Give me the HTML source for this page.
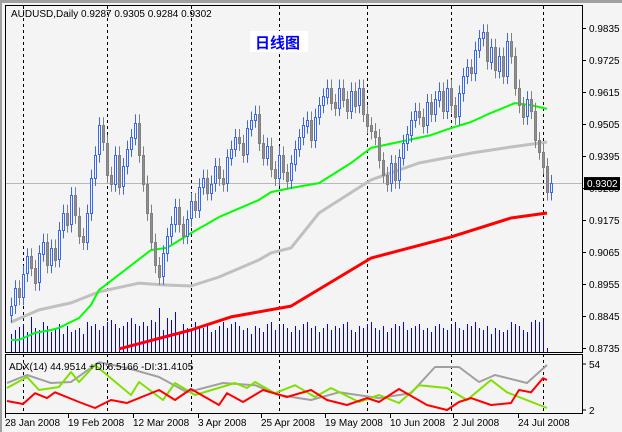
<!DOCTYPE html>
<html><head><meta charset="utf-8"><style>
html,body{margin:0;padding:0;background:#f4f4f4;}
body{width:622px;height:432px;overflow:hidden;position:relative;font-family:"Liberation Sans","Noto Sans CJK SC",sans-serif;}
svg{position:absolute;left:0;top:0;}
</style></head><body>
<svg id="chart" width="622" height="432" viewBox="0 0 622 432" xmlns="http://www.w3.org/2000/svg">
<rect x="0" y="0" width="622" height="432" fill="#f4f4f4"/>
<rect x="0" y="0" width="622" height="3" fill="#a0a0a0"/>
<rect x="0" y="0" width="2" height="432" fill="#a0a0a0"/>
<g id="main"></g>
</svg>
<script>
const closes=[.888,.894,.891,.899,.905,.901,.896,.906,.910,.902,.908,
.904,.914,.920,.916,.926,.919,.912,.910,.920,.932,
.940,.950,.944,.933,.930,.940,.929,.936,.942,.946,
.951,.940,.930,.920,.910,.902,.898,.906,.912,.916,
.922,.916,.912,.918,.924,.921,.929,.932,.927,.930,
.936,.932,.930,.939,.942,.946,.944,.940,.949,.952,
.954,.944,.939,.943,.935,.932,.940,.934,.931,.937,
.942,.946,.950,.952,.945,.953,.957,.960,.963,.958,
.956,.963,.959,.955,.962,.957,.963,.954,.950,.948,
.946,.938,.933,.930,.937,.931,.939,.944,.947,.952,
.955,.953,.950,.958,.954,.959,.962,.955,.963,.957,
.953,.961,.967,.970,.968,.976,.980,.982,.972,.977,
.969,.974,.967,.979,.974,.963,.957,.953,.959,.955,
.945,.941,.936,.927,.9302];
const firstOpen=.885;
const volumes=[18,22,25,28,20,35,24,22,30,26,20,24,28,18,26,20,22,24,18,30,
26,28,22,26,30,32,28,24,26,30,34,28,26,30,26,32,30,44,22,34,32,40,20,28,24,22,30,26,24,28,
20,22,26,30,24,28,30,26,22,24,18,26,24,20,28,30,22,26,28,24,20,26,22,28,30,24,26,20,24,28,
22,26,24,28,30,22,20,26,24,28,30,24,22,26,20,24,28,26,30,22,24,26,28,22,24,20,26,28,24,22,
26,30,24,22,28,26,30,24,22,26,18,24,22,20,22,30,28,26,22,20,30,32,30,32,4];
const greenIdx=[0,2,6,10,12,17,20,22,35,39,45,52,62,65,70,77,85,90,97,105,110,115,120,126,130,134];
const greenVal=[.8763,.8763,.8787,.8797,.8804,.8838,.8883,.8934,.9072,.9079,.9130,.9185,.9244,.9271,.9285,.9302,.9371,.9423,.9443,.9467,.9491,.9512,.9543,.9577,.9570,.9557];
const grayIdx=[0,7,15,22,32,38,45,52,62,65,70,77,90,102,115,125,134];
const grayVal=[.8824,.8866,.8890,.8928,.8958,.8952,.8948,.8979,.9038,.9062,.9079,.9199,.9313,.9371,.9405,.9426,.9443];
const redIdx=[27,45,55,70,90,110,125,134];
const redVal=[.8732,.8797,.8842,.8879,.9044,.9117,.9182,.9199];
const adxIdx=[-1,4,10,15,22,29,37,44,53,61,67,75,82,92,100,106,112,117,121,129,134];
const adxVal=[32.5,41.6,32.5,33.6,56,49.5,39.3,22,32.5,30,19,13.3,22,15.5,21,50.6,50.6,33.6,41.6,32.5,52.9];
const pdiIdx=[-1,4,7,12,15,17,21,30,32,38,41,46,56,59,61,66,71,76,80,87,92,97,102,109,114,120,124,134];
const pdiVal=[26.9,39.3,24.6,28,45,33.6,52.9,19,33.6,13.3,32.5,19,32.5,26.9,33.6,21,30,16.7,26.9,11,19,9.9,30,26.9,13.3,35.9,22,4.3];
const mdiIdx=[-1,3,6,9,11,17,21,25,29,37,41,45,52,54,58,63,69,75,79,84,89,92,97,104,109,112,115,120,125,127,130,133,134];
const mdiVal=[12.2,8.8,21,15.5,22,11,4.3,13.3,9.9,24.6,13.3,25.7,7.7,21,11,24.6,16.7,24.6,13.3,7.7,15.5,11,25.7,7.7,2,11,15.5,7.7,9.9,24.6,22,38,35.9];
const priceTicks=["0.9835","0.9725","0.9615","0.9505","0.9395","0.9285","0.9175","0.9065","0.8955","0.8845","0.8735"];
const dateLabels=["28 Jan 2008","19 Feb 2008","12 Mar 2008","3 Apr 2008","25 Apr 2008","19 May 2008","10 Jun 2008","2 Jul 2008","24 Jul 2008"];
const dateIdx=[-1.5,14.25,30.5,46.75,62.5,78.5,94.75,110.5,126.75];
const separatorIdx=[3,24,45,67,89,110,133];

const NS="http://www.w3.org/2000/svg";
const g=document.getElementById('main');
function mk(tag,attrs,parent){const e=document.createElementNS(NS,tag);for(const k in attrs)e.setAttribute(k,attrs[k]);(parent||g).appendChild(e);return e;}
const xOf=i=>11+i*4;
const yP=p=>28+(0.9835-p)/0.011*32;
const yI=v=>410-(v-2)/52*46;

let f=mk('rect',{x:5.5,y:5.5,width:577,height:347,fill:'#f4f4f4',stroke:'#000','stroke-width':1});


f=mk('rect',{x:5.5,y:354.5,width:577,height:59,fill:'#f4f4f4',stroke:'#000','stroke-width':1});



separatorIdx.forEach(i=>{const l=mk('line',{x1:xOf(i)+.5,x2:xOf(i)+.5,y1:6,y2:413,stroke:'#000','stroke-dasharray':'3,3','stroke-width':1});

});

let bl=mk('line',{x1:6,x2:582,y1:Math.round(yP(0.9302))+.5,y2:Math.round(yP(0.9302))+.5,stroke:'#b8b8b8','stroke-width':1});



volumes.forEach((v,i)=>{const r=mk('rect',{x:xOf(i),y:352-v,width:1,height:v,fill:'#0000ff'});

});

function poly(idx,val,yf,color,w,name){const pts=idx.map((i,k)=>xOf(i)+','+yf(val[k]).toFixed(1)).join(' ');
const p=mk('polyline',{points:pts,fill:'none',stroke:color,'stroke-width':w,'stroke-linejoin':'round'});

}
poly(grayIdx,grayVal,yP,'#c0c0c0',3,'ma-gray-line');
poly(redIdx,redVal,yP,'#ff0000',3,'ma-red-line');
poly(greenIdx,greenVal,yP,'#00ff00',2,'ma-green-line');

closes.forEach((c,i)=>{const o=i?closes[i-1]:firstOpen;const hi=Math.max(o,c)+0.0028,lo=Math.min(o,c)-0.0028;
const bull=c>=o;const x=xOf(i);
const col=bull?'#3a68e8':'#808080';
const w=mk('line',{x1:x+.5,x2:x+.5,y1:yP(hi),y2:yP(lo),stroke:col,'stroke-width':1});


const t=Math.round(Math.min(yP(o),yP(c)))+.5,h=Math.max(1,Math.round(Math.abs(yP(o)-yP(c))));
const b=mk('rect',{x:x-.5,y:t,width:2,height:h,fill:bull?'#f4f4f4':'#909090',stroke:col,'stroke-width':1});

});

poly(adxIdx,adxVal,yI,'#a0a0a0',2,'adx-line');
poly(pdiIdx,pdiVal,yI,'#80e000',2,'plus-di-line');
poly(mdiIdx,mdiVal,yI,'#ff0000',2,'minus-di-line');

priceTicks.forEach(t=>{const y=yP(parseFloat(t));
mk('line',{x1:582,x2:586,y1:y+.5,y2:y+.5,stroke:'#000'});
const tx=mk('text',{x:589,y:y+4,'font-size':10,fill:'#000'});tx.textContent=t;

});
const yb=yP(0.9302);
let pb=mk('rect',{x:584,y:yb-6,width:36,height:13,fill:'#000'});


let pt=mk('text',{x:587,y:yb+4,'font-size':10,fill:'#fff'});pt.textContent='0.9302';



[["54",54],["2",2]].forEach(([t,v])=>{const y=yI(v);mk('line',{x1:582,x2:586,y1:y,y2:y,stroke:'#000'});
const tx=mk('text',{x:589,y:y+4,'font-size':10,fill:'#000'});tx.textContent=t;

});

dateLabels.forEach((d,k)=>{const x=xOf(dateIdx[k]);mk('line',{x1:x+.5,x2:x+.5,y1:413,y2:418,stroke:'#000'});
const tx=mk('text',{x:x,y:426,'font-size':10,fill:'#000'});tx.textContent=d;

});

let hd=mk('text',{x:11,y:17,'font-size':10,fill:'#000'});hd.textContent='AUDUSD,Daily  0.9287 0.9305 0.9284 0.9302';


let ah=mk('text',{x:9,y:370,'font-size':10,fill:'#000'});ah.textContent='ADX(14) 44.9514 +DI:6.5166 -DI:31.4105';


let tb=mk('rect',{x:250,y:31,width:58,height:21,fill:'#ffffff'});


let tt=mk('text',{x:255,y:48,'font-size':15,'font-weight':'bold',fill:'#0000ff'});tt.textContent='日线图';


</script>
</body></html>
